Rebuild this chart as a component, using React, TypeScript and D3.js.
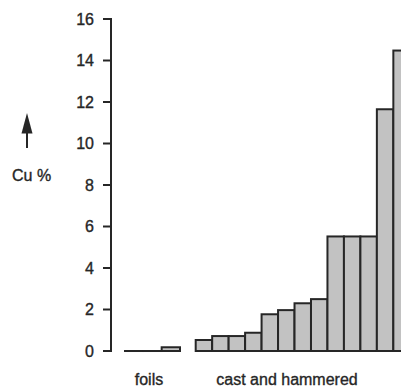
import React from "react";
import * as d3 from "d3";

const foilLabels = ["f1", "f2", "f3"];
const foilValues = [0, 0, 0.18];
const castLabels = ["c1", "c2", "c3", "c4", "c5", "c6", "c7", "c8", "c9", "c10", "c11", "c12", "c13"];
const castValues = [0.53, 0.72, 0.72, 0.88, 1.77, 1.97, 2.3, 2.5, 5.52, 5.52, 5.52, 11.65, 14.48];
const yTicks = [0, 2, 4, 6, 8, 10, 12, 14, 16];
const groupLabels = ["foils", "cast and hammered"];

const W = 401;
const H = 387;
const font = "'Liberation Sans', Arial, Helvetica, sans-serif";
const ink = "#262626";

export default function App() {
  const y = d3.scaleLinear().domain([0, 16]).range([351, 19]);
  const xFoil = d3.scaleBand().domain(foilLabels).range([125, 180]).padding(0);
  const xCast = d3
    .scaleBand()
    .domain(castLabels)
    .range([195.7, 195.7 + 16.47 * castLabels.length])
    .padding(0);
  const axisX = 111;

  const bar = (x: number, w: number, v: number, key: string) => (
    <rect
      key={key}
      x={x}
      y={y(v)}
      width={w}
      height={Math.max(y(0) - y(v), 0.01)}
      fill="#c2c2c2"
      stroke={ink}
      strokeWidth={2}
    />
  );

  const textStyle = { fill: ink, stroke: ink, strokeWidth: 0.35 };

  return (
    <svg
      width={W}
      height={H}
      style={{ position: "absolute", left: 0, top: 0, background: "#fff" }}
      fontFamily={font}
    >
      <rect x={0} y={0} width={W} height={H} fill="#fff" />
      {/* axis */}
      <line x1={axisX} x2={axisX} y1={y(16)} y2={y(0)} stroke={ink} strokeWidth={2} />
      {yTicks.map((t) => (
        <g key={t}>
          <line x1={axisX - 8} x2={axisX + 1} y1={y(t)} y2={y(t)} stroke={ink} strokeWidth={2} />
          <text x={94} y={y(t)} dy="0.35em" textAnchor="end" fontSize={16} {...textStyle}>
            {t}
          </text>
        </g>
      ))}
      {/* bars */}
      {foilLabels.map((c, i) => bar(xFoil(c)!, xFoil.bandwidth(), foilValues[i], c))}
      {castLabels.map((c, i) => bar(xCast(c)!, xCast.bandwidth(), castValues[i], c))}
      {/* y label with arrow */}
      <line x1={27} x2={27} y1={148} y2={130} stroke={ink} strokeWidth={2} />
      <path d="M21.5,133.5 L27,113 L32.5,133.5 Z" fill={ink} />
      <text x={12} y={181} fontSize={16} {...textStyle}>
        Cu %
      </text>
      {/* group labels */}
      <text x={149} y={385} fontSize={16} textAnchor="middle" {...textStyle}>
        {groupLabels[0]}
      </text>
      <text x={287} y={385} fontSize={16} textAnchor="middle" {...textStyle}>
        {groupLabels[1]}
      </text>
    </svg>
  );
}
